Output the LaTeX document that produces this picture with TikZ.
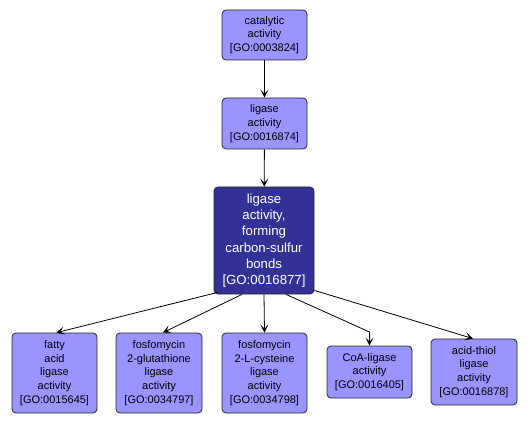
\documentclass[tikz,border=0pt]{standalone}
\usepackage{fontspec}
\setmainfont{Liberation Sans}
\usetikzlibrary{arrows.meta}
\definecolor{lightfill}{RGB}{153,148,255}
\definecolor{darkfill}{RGB}{50,50,150}
\definecolor{bordergray}{RGB}{40,40,40}
\begin{document}
\begin{tikzpicture}[x=1pt,y=1pt,
  term/.style={draw=bordergray, line width=0.8pt, rounded corners=4pt, fill=lightfill, align=center,
    font=\fontsize{11}{13.8}\selectfont, inner sep=0pt},
  mainterm/.style={term, fill=darkfill, text=white, font=\fontsize{13.2}{16.2}\selectfont},
  edge/.style={draw=black, line width=0.8pt, -{Stealth[length=8pt,width=8pt,inset=4pt]}}]
\useasboundingbox (0,0) rectangle (530,421);
\fill[white] (0,0) rectangle (530,421);

\node[term, minimum width=85pt, minimum height=50pt] (cat) at (264.5,386) {catalytic\\activity\\{[GO:0003824]}};
\node[term, minimum width=85pt, minimum height=51pt] (lig) at (264.5,297.5) {ligase\\activity\\{[GO:0016874]}};
\node[mainterm, minimum width=100pt, minimum height=107pt] (main) at (264,180.5) {ligase\\activity,\\forming\\carbon-sulfur\\bonds\\{[GO:0016877]}};

\node[term, minimum width=85pt, minimum height=80pt] (fatty) at (54.5,48) {fatty\\acid\\ligase\\activity\\{[GO:0015645]}};
\node[term, minimum width=86pt, minimum height=80pt] (glut) at (159,48) {fosfomycin\\2-glutathione\\ligase\\activity\\{[GO:0034797]}};
\node[term, minimum width=85pt, minimum height=80pt] (cyst) at (264.5,48) {fosfomycin\\2-L-cysteine\\ligase\\activity\\{[GO:0034798]}};
\node[term, minimum width=85pt, minimum height=52pt] (coa) at (369.5,49) {CoA-ligase\\activity\\{[GO:0016405]}};
\node[term, minimum width=86pt, minimum height=66pt] (thiol) at (474,49) {acid-thiol\\ligase\\activity\\{[GO:0016878]}};

\coordinate (bend) at (369.5,89);

\draw[edge] (cat) -- (lig);
\draw[edge] (lig) -- (main);
\draw[edge] ([xshift=4pt,yshift=2pt]main.south west) -- ([xshift=2pt]fatty.north);
\draw[edge] ([xshift=-22pt]main.south) -- ([xshift=4pt]glut.north);
\draw[edge] (main.south) -- (cyst.north);
\draw[edge] ([xshift=22pt]main.south) -- (bend) -- (coa.north);
\draw[edge] ([yshift=4pt]main.south east) -- ([xshift=-1pt]thiol.north);
\end{tikzpicture}
\end{document}
